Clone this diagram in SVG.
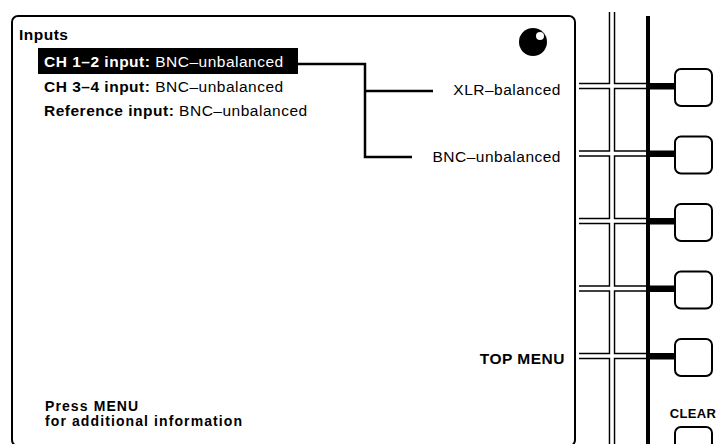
<svg xmlns="http://www.w3.org/2000/svg" width="720" height="444" viewBox="0 0 720 444">
<style>
text{font-family:"Liberation Sans",Arial,sans-serif;font-size:15.5px;letter-spacing:0.5px;fill:#000}
.b{font-weight:bold}
.w{fill:#fff}
.sm{font-size:14px;letter-spacing:1.1px}
.btn{fill:#fff;stroke:#000;stroke-width:2}
.sb{stroke:#000;stroke-width:6.5;fill:none}
.sw{stroke:#fff;stroke-width:3.6;fill:none}
.bar{fill:#000}
.conn{stroke:#000;stroke-width:2.5;fill:none}
</style>
<rect width="720" height="444" fill="#fff"/>
<g id="screen">
<rect x="12" y="16" width="563" height="430" rx="6" fill="#fff" stroke="#000" stroke-width="2"/>
<circle cx="533" cy="42" r="14" fill="#000"/>
<circle cx="540" cy="36" r="4" fill="#fff"/>
<text x="19" y="40" class="b">Inputs</text>
</g>
<g id="strips">
<path class="sb" d="M612 12V444M579 86H646M579 153.5H646M579 221H646M579 288.5H646M579 356H646"/>
<path class="sw" d="M612 12V444M579 86H646M579 153.5H646M579 221H646M579 288.5H646M579 356H646"/>
<rect x="646" y="16" width="4" height="428" class="bar"/>
<rect x="648" y="83" width="28" height="6.5" class="bar"/>
<rect x="648" y="150.5" width="28" height="6.5" class="bar"/>
<rect x="648" y="218" width="28" height="6.5" class="bar"/>
<rect x="648" y="285.5" width="28" height="6.5" class="bar"/>
<rect x="648" y="353" width="28" height="6.5" class="bar"/>
</g>
<g id="item-ch12">
<rect x="38" y="48" width="260" height="26" fill="#000"/>
<text x="44" y="67" class="w"><tspan class="b">CH 1–2 input:</tspan> BNC–unbalanced</text>
</g>
<g id="item-ch34">
<text x="44" y="92"><tspan class="b">CH 3–4 input:</tspan> BNC–unbalanced</text>
</g>
<g id="item-ref">
<text x="44" y="116"><tspan class="b">Reference input:</tspan> BNC–unbalanced</text>
</g>
<g id="opt-xlr">
<text x="561" y="95" text-anchor="end">XLR–balanced</text>
</g>
<g id="opt-bnc">
<text x="561" y="162" text-anchor="end">BNC–unbalanced</text>
</g>
<g id="top-menu">
<text x="565" y="364" text-anchor="end" class="b">TOP MENU</text>
</g>
<g id="press-menu">
<text x="45" y="411" class="b sm">Press MENU</text>
<text x="45" y="426" class="b sm">for additional information</text>
</g>
<g id="buttons">
<rect class="btn" x="675" y="69" width="37" height="37" rx="6"/>
<rect class="btn" x="675" y="136.5" width="37" height="37" rx="6"/>
<rect class="btn" x="675" y="204" width="37" height="37" rx="6"/>
<rect class="btn" x="675" y="271.5" width="37" height="37" rx="6"/>
<rect class="btn" x="675" y="339" width="37" height="37" rx="6"/>
<rect class="btn" x="675" y="427" width="37" height="37" rx="6"/>
<text x="693" y="418" text-anchor="middle" class="b" style="font-size:13px;letter-spacing:0.3px">CLEAR</text>
</g>
<g id="connectors">
<path class="conn" d="M298 64H365V157H412M365 91H433"/>
</g>
</svg>
